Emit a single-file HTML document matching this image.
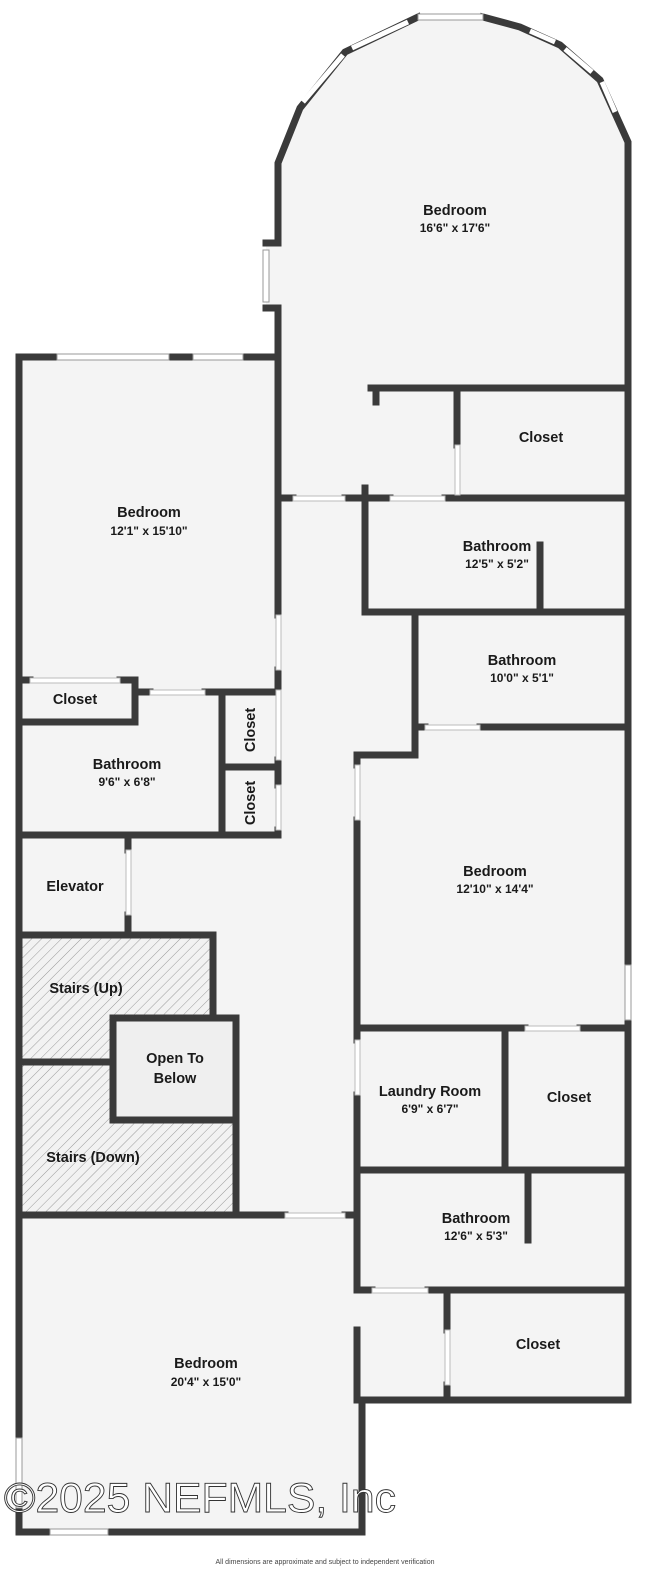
<!DOCTYPE html>
<html><head><meta charset="utf-8"><style>
html,body{margin:0;padding:0;background:#fff;}
svg{display:block;}
text{font-family:"Liberation Sans",sans-serif;fill:#1a1a1a;text-anchor:middle;}
.n{font-size:14.5px;font-weight:bold;}
.d{font-size:12px;font-weight:bold;}
</style></head><body>
<svg width="650" height="1571" viewBox="0 0 650 1571" xmlns="http://www.w3.org/2000/svg">
<defs>
<pattern id="h" width="7" height="7" patternUnits="userSpaceOnUse" patternTransform="rotate(45)">
<rect width="7" height="7" fill="#f2f2f2"/><line x1="0" y1="0" x2="0" y2="7" stroke="#9a9a9a" stroke-width="1"/>
</pattern>
</defs>
<path d="M278,163 L300,108 L345,52 L418,17 L483,17 L520,27 L560,45 L600,80 L628,142 L628,1400 L362,1400 L362,1532 L19,1532 L19,357 L278,357 L278,308 L266,308 L266,243 L278,243 Z" fill="#f4f4f4"/>
<rect x="22" y="935" width="191" height="127" fill="url(#h)"/>
<rect x="22" y="1062" width="214" height="150" fill="url(#h)"/>
<rect x="113" y="1018" width="123" height="102" fill="#efefef"/>
<g stroke="#3a3a3a" stroke-width="7" fill="none" stroke-linecap="square">
<path d="M278,500 L278,308 L266,308 M266,243 L278,243 L278,163 L300,108 L345,52 L418,17 M483,17 L520,27 L560,45 L600,80 L628,142 L628,1400 L447,1400 M447,1400 L362,1400 L362,1532 L19,1532 L19,357 L278,357"/>
<path d="M371,388 L628,388 M376,388 L376,402 M457,388 L457,445"/>
<path d="M278,498 L293,498 M345,498 L390,498 M445,498 L628,498"/>
<path d="M365,488 L365,612 L628,612 M540,545 L540,612"/>
<path d="M415,612 L415,755 L357,755 L357,765 M357,820 L357,1040 M357,1095 L357,1290 M357,1330 L357,1400"/>
<path d="M415,727 L425,727 M480,727 L628,727"/>
<path d="M357,1028 L525,1028 M580,1028 L628,1028 M505,1028 L505,1170 M357,1170 L628,1170 M528,1175 L528,1240"/>
<path d="M357,1290 L372,1290 M428,1290 L628,1290 M447,1290 L447,1330 M447,1385 L447,1400"/>
<path d="M278,357 L278,615 M278,670 L278,685 M278,760 L278,785 M278,830 L278,835"/>
<path d="M19,680 L30,680 M120,680 L135,680 L135,722 L19,722"/>
<path d="M135,692 L150,692 M205,692 L278,692"/>
<path d="M222,692 L222,835 M222,767 L278,767 M19,835 L278,835"/>
<path d="M128,835 L128,850 M128,915 L128,935 M19,935 L213,935 L213,1018 M19,1062 L113,1062"/>
<rect x="113" y="1018" width="123" height="102"/>
<path d="M236,1120 L236,1212 M19,1215 L285,1215 M345,1215 L357,1215"/>
<path d="M19,357 L55,357 M170,357 L190,357 M245,357 L278,357"/>
</g>
<g fill="#fff" stroke="#bbb" stroke-width="1">
<rect x="293" y="496" width="52" height="5"/>
<rect x="390" y="496" width="55" height="5"/>
<rect x="455" y="445" width="5" height="50"/>
<rect x="425" y="725" width="55" height="5"/>
<rect x="355" y="765" width="5" height="55"/>
<rect x="355" y="1040" width="5" height="55"/>
<rect x="525" y="1026" width="55" height="5"/>
<rect x="372" y="1288" width="56" height="5"/>
<rect x="445" y="1330" width="5" height="55"/>
<rect x="276" y="615" width="5" height="55"/>
<rect x="276" y="690" width="5" height="70"/>
<rect x="276" y="785" width="5" height="45"/>
<rect x="30" y="678" width="90" height="5"/>
<rect x="150" y="690" width="55" height="5"/>
<rect x="126" y="850" width="5" height="65"/>
<rect x="285" y="1213" width="60" height="5"/>
</g>
<g fill="#fff" stroke="#999" stroke-width="1">
<rect x="418" y="14" width="65" height="6"/>
<rect x="263" y="250" width="6" height="52"/>
<rect x="57" y="354" width="112" height="6"/>
<rect x="193" y="354" width="50" height="6"/>
<rect x="16" y="1438" width="6" height="70"/>
<rect x="50" y="1529" width="58" height="6"/>
<rect x="625" y="965" width="6" height="55"/>
</g>
<g stroke="#fff" stroke-width="5" fill="none">
<path d="M303,102 L343,55 M352,48 L408,22 M530,31 L555,42 M565,49 L592,72 M602,82 L615,112"/>
</g>
<text class="n" x="455" y="215">Bedroom</text><text class="d" x="455" y="232">16'6" x 17'6"</text>
<text class="n" x="541" y="442">Closet</text>
<text class="n" x="497" y="551">Bathroom</text><text class="d" x="497" y="568">12'5" x 5'2"</text>
<text class="n" x="522" y="665">Bathroom</text><text class="d" x="522" y="682">10'0" x 5'1"</text>
<text class="n" x="149" y="517">Bedroom</text><text class="d" x="149" y="535">12'1" x 15'10"</text>
<text class="n" x="75" y="704">Closet</text>
<text class="n" x="127" y="769">Bathroom</text><text class="d" x="127" y="786">9'6" x 6'8"</text>
<text class="n" x="0" y="0" transform="translate(255,730) rotate(-90)">Closet</text>
<text class="n" x="0" y="0" transform="translate(255,803) rotate(-90)">Closet</text>
<text class="n" x="495" y="876">Bedroom</text><text class="d" x="495" y="893">12'10" x 14'4"</text>
<text class="n" x="75" y="891">Elevator</text>
<text class="n" x="86" y="993">Stairs (Up)</text>
<text class="n" x="175" y="1063">Open To</text><text class="n" x="175" y="1083">Below</text>
<text class="n" x="93" y="1162">Stairs (Down)</text>
<text class="n" x="430" y="1096">Laundry Room</text><text class="d" x="430" y="1113">6'9" x 6'7"</text>
<text class="n" x="569" y="1102">Closet</text>
<text class="n" x="476" y="1223">Bathroom</text><text class="d" x="476" y="1240">12'6" x 5'3"</text>
<text class="n" x="538" y="1349">Closet</text>
<text class="n" x="206" y="1368">Bedroom</text><text class="d" x="206" y="1386">20'4" x 15'0"</text>
<text x="200" y="1512" style="font-size:42px;fill:#fff;stroke:#333;stroke-width:0.9;" textLength="392" lengthAdjust="spacingAndGlyphs">©2025 NEFMLS, Inc</text>
<text x="325" y="1564" style="font-size:7px;fill:#444;">All dimensions are approximate and subject to independent verification</text>
</svg>
</body></html>
